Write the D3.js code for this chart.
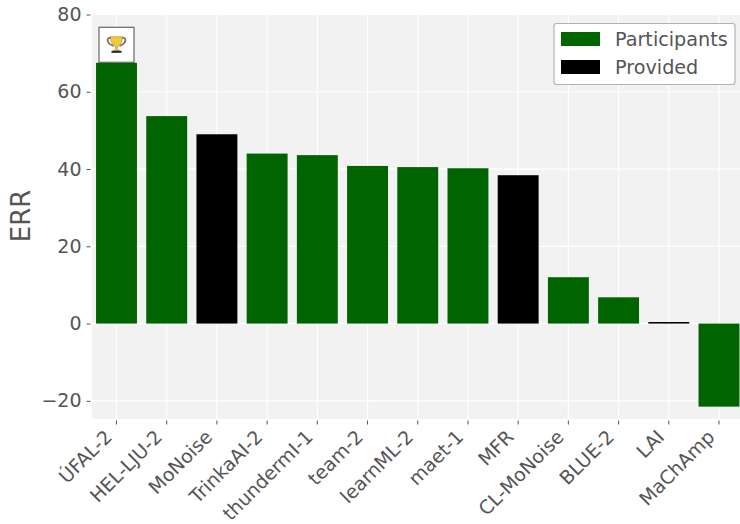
<!DOCTYPE html>
<html>
<head>
<meta charset="utf-8">
<script src="https://cdn.jsdelivr.net/npm/d3@7"></script>
<style>
  html, body { margin: 0; padding: 0; background: #fff; overflow: hidden; }
  text { font-family: "DejaVu Sans", sans-serif; fill: #555; }
</style>
</head>
<body>
<div id="main"></div>
<script>
const names = ['ÚFAL-2', 'HEL-LJU-2', 'MoNoise', 'TrinkaAI-2', 'thundermI-1', 'team-2', 'learnML-2', 'maet-1', 'MFR', 'CL-MoNoise', 'BLUE-2', 'LAI', 'MaChAmp'];
const err = [67.5, 53.7, 49.0, 44.0, 43.6, 40.8, 40.5, 40.2, 38.4, 12.0, 6.8, 0.4, -21.5];
const groups = ['Participants', 'Participants', 'Provided', 'Participants', 'Participants', 'Participants', 'Participants', 'Participants', 'Provided', 'Participants', 'Participants', 'Provided', 'Participants'];
const yTicks = [-20, 0, 20, 40, 60, 80];
const legendItems = ['Participants', 'Provided'];

const width = 740, height = 524;
const panel = {left: 92, right: 740, top: 14.5, bottom: 419};

const color = d3.scaleOrdinal().domain(legendItems).range(['#006400', '#000000']);

const x = d3.scaleBand()
    .domain(names)
    .range([91.4, 744.1])
    .paddingInner(0.185)
    .paddingOuter(0.0925);

const y = d3.scaleLinear()
    .domain([-24.7, 80])
    .range([panel.bottom, panel.top]);

const svg = d3.select('#main').append('svg')
    .attr('width', width)
    .attr('height', height)
    .style('display', 'block');

svg.append('rect')
    .attr('x', panel.left)
    .attr('y', panel.top)
    .attr('width', panel.right - panel.left)
    .attr('height', panel.bottom - panel.top)
    .attr('fill', '#f2f2f2');

// grid
svg.append('g').selectAll('line')
  .data(names)
  .join('line')
    .attr('x1', d => x(d) + x.bandwidth() / 2)
    .attr('x2', d => x(d) + x.bandwidth() / 2)
    .attr('y1', panel.top)
    .attr('y2', panel.bottom)
    .attr('stroke', '#fff')
    .attr('stroke-width', 1.2);

svg.append('g').selectAll('line')
  .data(yTicks)
  .join('line')
    .attr('x1', panel.left)
    .attr('x2', panel.right)
    .attr('y1', d => y(d))
    .attr('y2', d => y(d))
    .attr('stroke', '#fff')
    .attr('stroke-width', 1.2);

// bars
svg.append('g').selectAll('rect')
  .data(names)
  .join('rect')
    .attr('x', d => x(d))
    .attr('width', x.bandwidth())
    .attr('y', (d, i) => y(Math.max(err[i], 0)))
    .attr('height', (d, i) => Math.abs(y(err[i]) - y(0)))
    .attr('fill', (d, i) => color(groups[i]));

// axes
const yAxis = svg.append('g')
    .attr('transform', `translate(${panel.left - 1.5},0)`)
    .call(d3.axisLeft(y).tickValues(yTicks).tickSize(4).tickPadding(5).tickFormat(d => d3.format('d')(d).replace('-', '−')));
yAxis.select('.domain').remove();
yAxis.selectAll('line').attr('stroke', '#555');
yAxis.selectAll('text').attr('font-size', 19).style('font-family', '"DejaVu Sans", sans-serif').attr('fill', '#555');

const xAxis = svg.append('g')
    .attr('transform', `translate(0,${panel.bottom + 1.5})`)
    .call(d3.axisBottom(x).tickSize(4));
xAxis.select('.domain').remove();
xAxis.selectAll('line').attr('stroke', '#555');
xAxis.selectAll('text')
    .attr('font-size', 19)
    .style('font-family', '"DejaVu Sans", sans-serif')
    .attr('fill', '#555')
    .attr('text-anchor', 'end')
    .attr('dy', '0.35em')
    .attr('y', 0)
    .attr('transform', 'translate(-8,13) rotate(-45)');

svg.append('text')
    .attr('transform', `translate(30,216) rotate(-90)`)
    .attr('text-anchor', 'middle')
    .attr('font-size', 26)
    .text('ERR');

// trophy badge over the winner
const trophy = svg.append('g')
    .attr('transform', `translate(${x(names[0]) + x.bandwidth() / 2},${y(err[0]) - 18})`);
trophy.append('rect')
    .attr('x', -17.5).attr('y', -17.5)
    .attr('width', 35).attr('height', 35)
    .attr('fill', '#fff')
    .attr('stroke', '#666')
    .attr('stroke-width', 1.2);
trophy.append('path')
    .attr('d', 'M-5,-7 C-11,-8 -10,-1 -3,1 M5,-7 C11,-8 10,-1 3,1')
    .attr('fill', 'none')
    .attr('stroke', '#77705a')
    .attr('stroke-width', 1.8);
trophy.append('path')
    .attr('d', 'M-6,-8 L6,-8 C6,-2 3,1 1,2 L1,4 L3,6 L-3,6 L-1,4 L-1,2 C-3,1 -6,-2 -6,-8 Z')
    .attr('fill', '#f3c93a')
    .attr('stroke', '#8a7428')
    .attr('stroke-width', 0.5);
trophy.append('rect')
    .attr('x', -5).attr('y', 6)
    .attr('width', 10).attr('height', 2)
    .attr('fill', '#222');

// legend
const legend = svg.append('g');
legend.append('rect')
    .attr('x', 554).attr('y', 23.5)
    .attr('width', 181).attr('height', 61)
    .attr('rx', 2.5)
    .attr('fill', '#fff')
    .attr('stroke', '#b3b3b3')
    .attr('stroke-width', 1.2);
const rows = legend.selectAll('g')
  .data(legendItems)
  .join('g')
    .attr('transform', (d, i) => `translate(561,${32 + i * 28})`);
rows.append('rect')
    .attr('width', 39)
    .attr('height', 14)
    .attr('fill', d => color(d));
rows.append('text')
    .attr('x', 54)
    .attr('y', 14)
    .attr('font-size', 19.2)
    .text(d => d);
</script>
</body>
</html>
